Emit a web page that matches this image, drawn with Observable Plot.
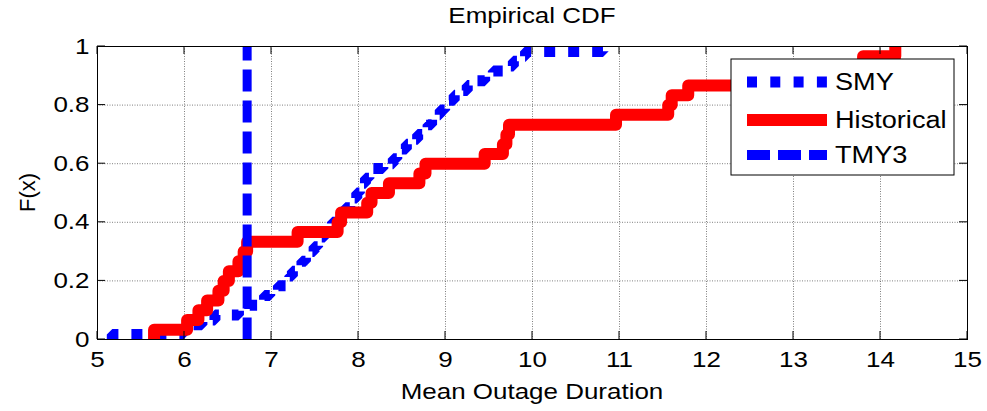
<!DOCTYPE html>
<html><head><meta charset="utf-8">
<script src="https://cdn.jsdelivr.net/npm/d3@7"></script>
<script src="https://cdn.jsdelivr.net/npm/@observablehq/plot@0.6"></script>
<style>
body{margin:0;background:#fff;}
#wrap{position:relative;width:987px;height:411px;}
</style></head>
<body><div id="wrap"></div>
<script>
// Sample values behind each empirical CDF
const smyValues = [5.17, 5.98, 6.05, 6.2, 6.35, 6.62, 6.75, 6.85, 6.92, 6.98,
  7.08, 7.18, 7.21, 7.24, 7.3, 7.35, 7.39, 7.44, 7.49, 7.53,
  7.57, 7.61, 7.65, 7.7, 7.76, 7.8, 7.85, 7.9, 7.95, 7.98,
  8.01, 8.05, 8.08, 8.12, 8.15, 8.28, 8.4, 8.44, 8.48, 8.55,
  8.61, 8.68, 8.74, 8.8, 8.84, 8.88, 8.94, 8.99, 9.03, 9.1,
  9.16, 9.25, 9.35, 9.45, 9.55, 9.68, 9.78, 9.85, 9.92, 10.81];
const historicalValues = [5.65, 6.03, 6.16, 6.26, 6.39, 6.45, 6.51, 6.62, 6.68, 6.72,
  7.3, 7.76, 7.8, 8.1, 8.15, 8.35, 8.7, 8.77, 9.45, 9.66,
  9.7, 9.73, 10.96, 11.56, 11.6, 11.79, 12.6, 13.06, 13.8, 14.17];
const tmy3Values = [6.72];

const seriesNames = ["SMY", "Historical", "TMY3"];
const xTicks = [5, 6, 7, 8, 9, 10, 11, 12, 13, 14, 15];
const yTicks = [0, 0.2, 0.4, 0.6, 0.8, 1];
const yTickLabels = ["0", "0.2", "0.4", "0.6", "0.8", "1"];
const titleText = "Empirical CDF";
const xLabel = "Mean Outage Duration";
const yLabel = "F(x)";

function ecdf(values) {
  const s = values.slice().sort((a, b) => a - b);
  const n = s.length;
  const pts = [{x: s[0], F: 0}];
  s.forEach((v, i) => pts.push({x: v, F: (i + 1) / n}));
  return pts;
}
const smyPts = ecdf(smyValues);
const histPts = ecdf(historicalValues);
const tmyPts = ecdf(tmy3Values);

const FONT = "'Liberation Sans', Arial, sans-serif";
const styles = {
  SMY: {stroke: "#0000ff", strokeWidth: 11, strokeDasharray: "11,13", strokeLinecap: "butt", strokeLinejoin: "miter"},
  Historical: {stroke: "#ff0000", strokeWidth: 12, strokeLinecap: "round", strokeLinejoin: "round"},
  TMY3: {stroke: "#0000ff", strokeWidth: 9, strokeDasharray: "22,9", strokeLinecap: "butt"}
};

const plot = Plot.plot({
  width: 987, height: 411,
  marginLeft: 97, marginRight: 20, marginTop: 46, marginBottom: 72,
  style: {fontFamily: FONT, fontSize: "22px", color: "#000", background: "#fff"},
  x: {domain: [5, 15]},
  y: {domain: [0, 1]},
  marks: [
    Plot.gridX({ticks: xTicks, stroke: "#000", strokeOpacity: 0.5, strokeDasharray: "1,1.5"}),
    Plot.gridY({ticks: yTicks, stroke: "#000", strokeOpacity: 0.5, strokeDasharray: "1,1.5"}),
    Plot.line(smyPts, {x: "x", y: "F", curve: "step-after", clip: true, ...styles.SMY}),
    Plot.line(histPts, {x: "x", y: "F", curve: "step-after", clip: true, ...styles.Historical}),
    Plot.line(tmyPts, {x: "x", y: "F", curve: "step-after", clip: true, ...styles.TMY3}),
    Plot.frame({stroke: "#000", strokeWidth: 1}),
    Plot.axisX({ticks: xTicks, tickSize: 0, tickPadding: 12, label: null, fontSize: 22, tickFormat: d => String(d)}),
    Plot.axisY({ticks: yTicks, tickSize: 0, tickPadding: 8, label: null, fontSize: 22, tickFormat: (d, i) => yTickLabels[i]})
  ]
});
document.getElementById("wrap").append(plot);

const svg = d3.select(plot);
const sx = plot.scale("x"), sy = plot.scale("y");
const [xl, xr] = sx.range;
const [yb, yt] = sy.range;
const tl = 8;

// inward ticks on all four sides
const tg = svg.append("g").attr("stroke", "#000").attr("stroke-width", 1).attr("fill", "none");
xTicks.forEach(v => {
  const px = sx.apply(v);
  tg.append("line").attr("x1", px).attr("x2", px).attr("y1", yb).attr("y2", yb - tl);
  tg.append("line").attr("x1", px).attr("x2", px).attr("y1", yt).attr("y2", yt + tl);
});
yTicks.forEach(v => {
  const py = sy.apply(v);
  tg.append("line").attr("x1", xl).attr("x2", xl + tl).attr("y1", py).attr("y2", py);
  tg.append("line").attr("x1", xr).attr("x2", xr - tl).attr("y1", py).attr("y2", py);
});

const cx = (xl + xr) / 2;
// title
svg.append("text").attr("x", cx).attr("y", 23).attr("text-anchor", "middle")
  .attr("font-family", FONT).attr("font-size", 22).attr("fill", "#000").text(titleText);
// x label
svg.append("text").attr("x", cx).attr("y", 399).attr("text-anchor", "middle")
  .attr("font-family", FONT).attr("font-size", 22).attr("fill", "#000").text(xLabel);
// y label
svg.append("text").attr("class", "norot").attr("transform", `translate(35,${(yb + yt) / 2}) rotate(-90)`)
  .attr("text-anchor", "middle").attr("font-family", FONT).attr("font-size", 22).attr("fill", "#000").text(yLabel);

// legend
const lg = svg.append("g");
lg.append("rect").attr("x", 731).attr("y", 59).attr("width", 223).attr("height", 116)
  .attr("fill", "#fff").attr("stroke", "#000").attr("stroke-width", 1);
const legendY = [82, 120, 155];
const legendDash = {SMY: "10,13.3", Historical: null, TMY3: "23,8"};
seriesNames.forEach((name, i) => {
  const st = styles[name];
  const ln = lg.append("line").attr("x1", 747).attr("x2", 827).attr("y1", legendY[i]).attr("y2", legendY[i])
    .attr("stroke", st.stroke).attr("stroke-width", name === "TMY3" ? 10 : st.strokeWidth)
    .attr("stroke-linecap", "butt");
  if (legendDash[name]) ln.attr("stroke-dasharray", legendDash[name]);
  lg.append("text").attr("x", 835).attr("y", legendY[i] + 8).attr("text-anchor", "start")
    .attr("font-family", FONT).attr("font-size", 23).attr("fill", "#000").text(name);
});

// MATLAB-like horizontal stretch of text
svg.selectAll("text").each(function() {
  if (this.classList.contains("norot")) return;
  const w = this.getComputedTextLength();
  if (w > 0) {
    this.setAttribute("textLength", (w * 1.18).toFixed(1));
    this.setAttribute("lengthAdjust", "spacingAndGlyphs");
  }
});
</script>
</body></html>
